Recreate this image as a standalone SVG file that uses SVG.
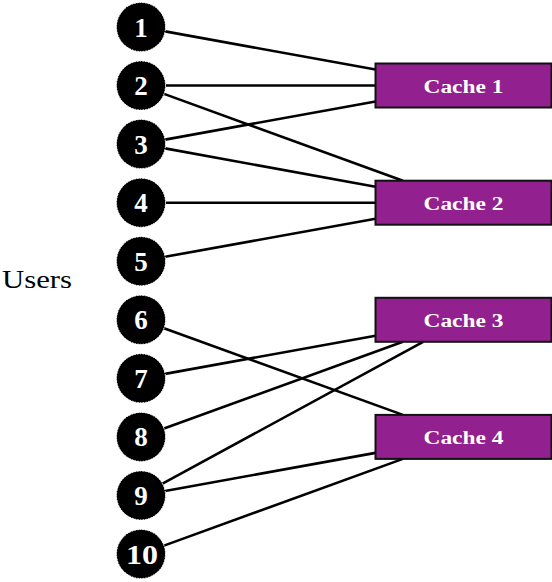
<svg xmlns="http://www.w3.org/2000/svg" width="552" height="582" viewBox="0 0 552 582">
<style>
.user circle{fill:#000;stroke:#fff;stroke-width:1;stroke-dasharray:1.5 1.2}
.user text{font-family:"Liberation Serif",serif;font-weight:bold;font-size:27px;fill:#fff;text-anchor:middle}
.cache rect{fill:#93208f;stroke:#111;stroke-width:2}
.cache text{font-family:"Liberation Serif",serif;font-weight:bold;font-size:18px;fill:#fff;text-anchor:middle}
#edges line{stroke:#000;stroke-width:2.6;stroke-linecap:butt}
.lbl{font-family:"Liberation Serif",serif;font-size:25px;fill:#000}
</style>
<rect width="552" height="582" fill="#fff"/>
<text class="lbl" x="2" y="288" textLength="70" lengthAdjust="spacingAndGlyphs">Users</text>
<g id="edges">
<line x1="165.1" y1="31.4" x2="375.5" y2="69.5"/>
<line x1="165.5" y1="85.5" x2="375.5" y2="85.5"/>
<line x1="165.1" y1="139.6" x2="375.5" y2="101.5"/>
<line x1="164.0" y1="93.9" x2="402.9" y2="180.7"/>
<line x1="165.1" y1="148.4" x2="375.5" y2="186.7"/>
<line x1="165.5" y1="202.7" x2="375.5" y2="202.7"/>
<line x1="165.1" y1="256.8" x2="375.5" y2="218.7"/>
<line x1="164.0" y1="328.2" x2="402.9" y2="414.9"/>
<line x1="165.1" y1="373.9" x2="375.5" y2="335.8"/>
<line x1="164.0" y1="428.5" x2="402.9" y2="341.8"/>
<line x1="162.5" y1="483.7" x2="423.1" y2="341.8"/>
<line x1="165.1" y1="491.0" x2="375.5" y2="452.9"/>
<line x1="164.0" y1="545.6" x2="402.9" y2="458.9"/>
</g>
<g id="u1" class="user"><circle cx="141" cy="27" r="24.5"/><text x="141" y="36.5">1</text></g>
<g id="u2" class="user"><circle cx="141" cy="85.5" r="24.5"/><text x="141" y="95">2</text></g>
<g id="u3" class="user"><circle cx="141" cy="144" r="24.5"/><text x="141" y="153.5">3</text></g>
<g id="u4" class="user"><circle cx="141" cy="202.7" r="24.5"/><text x="141" y="212.2">4</text></g>
<g id="u5" class="user"><circle cx="141" cy="261.2" r="24.5"/><text x="141" y="270.7">5</text></g>
<g id="u6" class="user"><circle cx="141" cy="319.8" r="24.5"/><text x="141" y="329.3">6</text></g>
<g id="u7" class="user"><circle cx="141" cy="378.3" r="24.5"/><text x="141" y="387.8">7</text></g>
<g id="u8" class="user"><circle cx="141" cy="436.9" r="24.5"/><text x="141" y="446.4">8</text></g>
<g id="u9" class="user"><circle cx="141" cy="495.4" r="24.5"/><text x="141" y="504.9">9</text></g>
<g id="u10" class="user"><circle cx="141" cy="554" r="24.5"/><text x="142" y="563.5" textLength="32" lengthAdjust="spacingAndGlyphs">10</text></g>
<g id="c1" class="cache"><rect x="375.5" y="63.5" width="176" height="44"/><text x="463.5" y="92.5" textLength="80" lengthAdjust="spacingAndGlyphs">Cache 1</text></g>
<g id="c2" class="cache"><rect x="375.5" y="180.7" width="176" height="44"/><text x="463.5" y="209.7" textLength="80" lengthAdjust="spacingAndGlyphs">Cache 2</text></g>
<g id="c3" class="cache"><rect x="375.5" y="297.8" width="176" height="44"/><text x="463.5" y="326.8" textLength="80" lengthAdjust="spacingAndGlyphs">Cache 3</text></g>
<g id="c4" class="cache"><rect x="375.5" y="414.9" width="176" height="44"/><text x="463.5" y="443.9" textLength="80" lengthAdjust="spacingAndGlyphs">Cache 4</text></g>
</svg>
